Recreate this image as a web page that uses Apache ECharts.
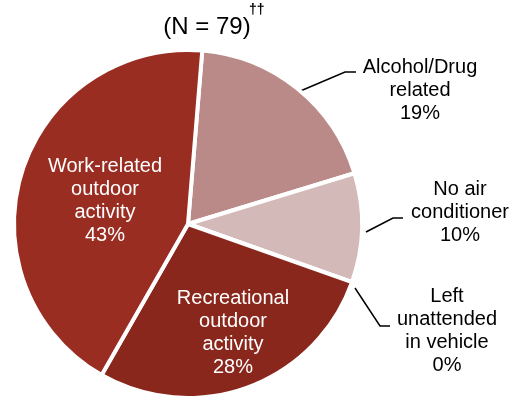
<!DOCTYPE html>
<html>
<head>
<meta charset="utf-8">
<script src="https://cdn.jsdelivr.net/npm/echarts@6/dist/echarts.min.js"></script>
<style>
html,body{margin:0;padding:0;background:#fff;}
#chart{width:522px;height:400px;}
</style>
</head>
<body>
<div id="chart"></div>
<script>
// Data (N = 79), clockwise from top
var categories = ['Alcohol/Drug\nrelated', 'No air\nconditioner', 'Left\nunattended\nin vehicle', 'Recreational\noutdoor\nactivity', 'Work-related\noutdoor\nactivity'];
var counts = [15, 8, 0, 22, 34];
var colors = ['#b98a87', '#d4b9b9', '#8a271d', '#8a271d', '#9a2d21'];
var insideFlags = [false, false, false, true, true];
var titleText = '(N = 79)';
var titleMark = '††';

// label placement (text centres and leader lines)
var labelPos = [
  {x: 420, y: 90, line: [[298, 92], [345, 72], [356, 72]]},
  {x: 460, y: 212, line: [[366, 232], [393, 218], [403, 218]]},
  {x: 447, y: 331, line: [[355, 288], [380, 326], [390, 326]]},
  {x: 233, y: 333},
  {x: 105, y: 201}
];

var chart = echarts.init(document.getElementById('chart'), null, {renderer: 'canvas'});
var data = categories.map(function (c, i) {
  return {
    name: c,
    value: counts[i],
    itemStyle: {color: colors[i]},
    label: insideFlags[i] ? {position: 'inside', color: '#ffffff'} : {position: 'outside', color: '#000000'},
    labelLine: {show: !insideFlags[i]}
  };
});

chart.setOption({
  animation: false,
  title: {
    text: titleText,
    left: 202,
    top: 10,
    textAlign: 'center',
    textStyle: {
      fontFamily: 'Liberation Sans, Arial, sans-serif',
      fontSize: 24,
      fontWeight: 'normal',
      color: '#000'
    }
  },
  graphic: [{
    type: 'text',
    left: 249,
    top: 3,
    style: {text: titleMark, fontFamily: 'Liberation Sans, Arial, sans-serif', fontSize: 14, fontWeight: 'bold', fill: '#000'}
  }],
  series: [{
    type: 'pie',
    center: [188, 224],
    radius: 174,
    startAngle: 85.3,
    clockwise: true,
    percentPrecision: 0,
    avoidLabelOverlap: false,
    data: data,
    itemStyle: {borderColor: '#ffffff', borderWidth: 4},
    label: {
      show: true,
      formatter: function (p) { return p.name + '\n' + Math.round(p.percent) + '%'; },
      fontFamily: 'Liberation Sans, Arial, sans-serif',
      fontSize: 20,
      lineHeight: 23,
      align: 'center'
    },
    labelLine: {
      lineStyle: {color: '#000', width: 1.5}
    },
    labelLayout: function (params) {
      var p = labelPos[params.dataIndex];
      var out = {x: p.x, y: p.y, align: 'center', verticalAlign: 'middle'};
      if (p.line) { out.labelLinePoints = p.line; }
      return out;
    }
  }]
});
</script>
</body>
</html>
